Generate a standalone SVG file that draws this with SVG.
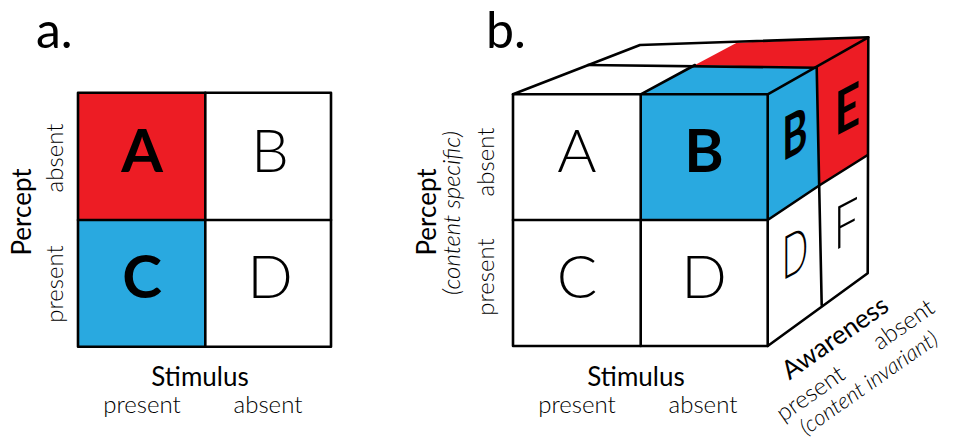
<svg xmlns="http://www.w3.org/2000/svg" width="955" height="443" viewBox="0 0 955 443">
<style>
  .t{font-family:Lato,"Liberation Sans",sans-serif;fill:#000;font-weight:300}
  .big{font-size:60px}
  .bold{font-weight:bold}
  .lab{font-size:24px}
  .sm{font-size:22px}
  .ttl{font-size:26px;font-weight:normal}
  .hd{font-size:50px;font-weight:normal}
  .it{font-style:italic}
  .red{fill:#ED1C24}
  .blue{fill:#29A9E0}
  .white{fill:#fff}
  .ln{stroke:#000;stroke-width:2.6;fill:none;stroke-linejoin:round;stroke-linecap:round}
</style>
<rect width="955" height="443" fill="#fff"/>

<g id="panel-a">
  <text class="t hd" x="36" y="48">a.</text>
  <g id="cell-a-A">
    <rect class="red" x="78" y="92.7" width="127.3" height="127.3"/>
    <text class="t big bold" x="142" y="172" text-anchor="middle">A</text>
  </g>
  <g id="cell-a-B">
    <rect class="white" x="205.3" y="92.7" width="125.7" height="127.3"/>
    <text class="t big" x="270" y="172" text-anchor="middle">B</text>
  </g>
  <g id="cell-a-C">
    <rect class="blue" x="78" y="220" width="127.3" height="126.7"/>
    <text class="t big bold" x="142" y="298" text-anchor="middle">C</text>
  </g>
  <g id="cell-a-D">
    <rect class="white" x="205.3" y="220" width="125.7" height="126.7"/>
    <text class="t big" x="270" y="298" text-anchor="middle">D</text>
  </g>
  <g id="grid-a" class="ln">
    <rect x="78" y="92.7" width="253" height="254"/>
    <line x1="205.3" y1="92.7" x2="205.3" y2="346.7"/>
    <line x1="78" y1="220" x2="331" y2="220"/>
  </g>
  <g id="labels-a">
    <text class="t ttl" transform="translate(31,212) rotate(-90)" text-anchor="middle">Percept</text>
    <text class="t lab" transform="translate(63,158) rotate(-90)" text-anchor="middle">absent</text>
    <text class="t lab" transform="translate(63,284) rotate(-90)" text-anchor="middle">present</text>
    <text class="t ttl" x="200" y="386" text-anchor="middle">Stimulus</text>
    <text class="t lab" x="142" y="413" text-anchor="middle">present</text>
    <text class="t lab" x="268" y="413" text-anchor="middle">absent</text>
  </g>
</g>

<g id="panel-b">
  <text class="t hd" x="486" y="48">b.</text>
  <g id="cell-b-A">
    <rect class="white" x="513" y="94.3" width="127.7" height="125.7"/>
    <text class="t big" x="577" y="172" text-anchor="middle">A</text>
  </g>
  <g id="cell-b-B">
    <rect class="blue" x="640.7" y="94.3" width="127" height="125.7"/>
    <polygon class="blue" points="640.7,94.3 767.7,94.3 816.7,67.7 695,65"/>
    <polygon class="blue" points="767.7,94.3 816.7,67.7 820,185 767.7,220"/>
    <text class="t big bold" x="704" y="172" text-anchor="middle">B</text>
    <text class="t big bold" transform="matrix(0.64,-0.34,0,1,795,155)" text-anchor="middle">B</text>
  </g>
  <g id="cell-b-C">
    <rect class="white" x="513" y="220" width="127.7" height="126"/>
    <text class="t big" x="577" y="298" text-anchor="middle">C</text>
  </g>
  <g id="cell-b-D">
    <rect class="white" x="640.7" y="220" width="127" height="126"/>
    <polygon class="white" points="767.7,220 820,185 821.7,305 767.7,346"/>
    <text class="t big" x="704" y="298" text-anchor="middle">D</text>
    <text class="t big" transform="matrix(0.58,-0.31,0,1,795,274)" text-anchor="middle">D</text>
  </g>
  <g id="cell-b-top">
    <polygon class="white" points="513,94.3 640.7,94.3 695,65 588,65"/>
    <polygon class="white" points="588,65 695,65 736.7,42.7 640,45"/>
  </g>
  <g id="cell-b-E">
    <polygon class="red" points="695,65 816.7,67.7 868.3,37.3 736.7,42.7"/>
    <polygon class="red" points="816.7,67.7 868.3,37.3 867.7,155 820,185"/>
    <text class="t big bold" transform="matrix(0.74,-0.39,0,1,847.5,130)" text-anchor="middle">E</text>
  </g>
  <g id="cell-b-F">
    <polygon class="white" points="820,185 867.7,155 867.7,273.3 821.7,305"/>
    <text class="t big" transform="matrix(0.74,-0.39,0,1,846,245)" text-anchor="middle">F</text>
  </g>
  <g id="connectors" class="ln">
    <rect x="513" y="94.3" width="254.7" height="251.7"/>
    <line x1="640.7" y1="94.3" x2="640.7" y2="346"/>
    <line x1="513" y1="220" x2="767.7" y2="220"/>
    <polyline points="513,94.3 640,45 868.3,37.3 867.7,273.3 767.7,346"/>
    <line x1="588" y1="65" x2="816.7" y2="67.7"/>
    <line x1="640.7" y1="94.3" x2="695" y2="65"/>
    <line x1="767.7" y1="94.3" x2="868.3" y2="37.3"/>
    <line x1="816.7" y1="67.7" x2="821.7" y2="305"/>
    <polyline points="767.7,220 820,185 867.7,155"/>
  </g>
  <g id="labels-b">
    <text class="t ttl" transform="translate(436,212) rotate(-90)" text-anchor="middle">Percept</text>
    <text class="t lab it" transform="translate(460,213) rotate(-90)" text-anchor="middle">(content specific)</text>
    <text class="t lab" transform="translate(494,162) rotate(-90)" text-anchor="middle">absent</text>
    <text class="t lab" transform="translate(494,277) rotate(-90)" text-anchor="middle">present</text>
    <text class="t ttl" x="636" y="386" text-anchor="middle">Stimulus</text>
    <text class="t lab" x="577" y="413" text-anchor="middle">present</text>
    <text class="t lab" x="703" y="413" text-anchor="middle">absent</text>
    <text class="t ttl bold" transform="translate(840,345) rotate(-35)" text-anchor="middle">Awareness</text>
    <text class="t lab" transform="translate(815,400) rotate(-35)" text-anchor="middle">present</text>
    <text class="t lab" transform="translate(908,331) rotate(-35)" text-anchor="middle">absent</text>
    <text class="t sm it" transform="translate(873,389) rotate(-35)" text-anchor="middle">(content invariant)</text>
  </g>
</g>
</svg>
